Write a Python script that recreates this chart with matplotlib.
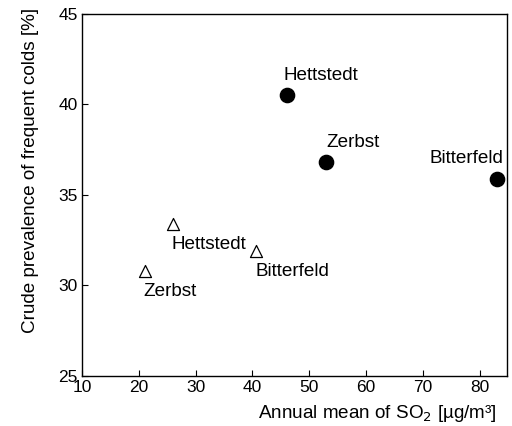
import matplotlib
matplotlib.use("Agg")
import matplotlib.pyplot as plt

plt.rcParams['font.family'] = ['Liberation Sans', 'DejaVu Sans']

# filled circles (first group) and open triangles (second group)
towns_a = ['Hettstedt', 'Zerbst', 'Bitterfeld']
so2_a = [46, 53, 83]
colds_a = [40.5, 36.8, 35.9]

towns_b = ['Hettstedt', 'Zerbst', 'Bitterfeld']
so2_b = [26, 21, 40.7]
colds_b = [33.4, 30.8, 31.9]

fs = 12.5
fs_txt = 13.6
fig = plt.figure(figsize=(5.12, 4.26), dpi=100)
ax = fig.add_axes([82 / 512, 50 / 426, 425 / 512, 362 / 426])

ax.scatter(so2_a, colds_a, s=105, marker='o', color='black', zorder=3)
ax.scatter(so2_b, colds_b, s=75, marker='^', facecolor='white',
           edgecolor='black', linewidth=0.9, zorder=3)

# label offsets in points
offs_a = {'Hettstedt': (-2, 11, 'left'), 'Zerbst': (0, 11, 'left'),
          'Bitterfeld': (4.5, 11.5, 'right')}
for name, x, y in zip(towns_a, so2_a, colds_a):
    dx, dy, ha = offs_a[name]
    ax.annotate(name, (x, y), xytext=(dx, dy), textcoords='offset points',
                ha=ha, va='baseline', fontsize=fs_txt)
for name, x, y in zip(towns_b, so2_b, colds_b):
    ax.annotate(name, (x, y), xytext=(-0.7, -8.6), textcoords='offset points',
                ha='left', va='top', fontsize=fs_txt)

ax.set_xlim(10, 84.8)
ax.set_ylim(25, 45)
ax.set_xticks([10, 20, 30, 40, 50, 60, 70, 80])
ax.set_yticks([25, 30, 35, 40, 45])
ax.tick_params(direction='in', labelsize=fs, length=4, width=0.8, pad=3)
for s in ax.spines.values():
    s.set_linewidth(1.0)

ax.set_xlabel('Annual mean of SO$_2$ [µg/m³]', fontsize=fs_txt, loc='right')
ax.xaxis.set_label_coords(0.975, -0.074)
ax.set_ylabel('Crude prevalence of frequent colds [%]', fontsize=fs_txt, loc='top')
ax.yaxis.set_label_coords(-0.10, 1.017)

fig.savefig('out.png', dpi=100)
